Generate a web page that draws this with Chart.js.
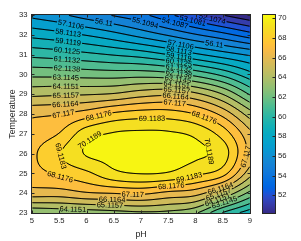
<!DOCTYPE html>
<html><head><meta charset="utf-8">
<script src="https://cdn.jsdelivr.net/npm/chart.js@4.4.1/dist/chart.umd.min.js"></script>
<style>html,body{margin:0;padding:0;background:#fff;}canvas{display:block;}</style>
</head><body>
<canvas id="c" width="301" height="241"></canvas>
<script>
// ---------- data ----------
const phValues = [5, 5.5, 6, 6.5, 7, 7.5, 8, 8.5, 9];
const tempValues = [23, 24, 25, 26, 27, 28, 29, 30, 31, 32, 33];
// response, one row per temperature, ordered by phValues
const zT23 = [63.2, 63.4, 63.5, 63.7, 63.9, 63.8, 63.2, 61.0, 59.5];
const zT24 = [66.6, 66.6, 67.0, 67.15, 67.3, 66.85, 66.5, 65.0, 62.8];
const zT25 = [67.7, 68.3, 68.9, 69.86, 70.15, 70.02, 69.35, 68.5, 65.5];
const zT26 = [67.9, 69.05, 70.2, 70.32, 70.34, 70.33, 70.28, 69.6, 66.7];
const zT27 = [67.5, 68.16, 69.69, 70.2, 70.3, 70.25, 69.9, 68.7, 66.35];
const zT28 = [66.9, 67.08, 67.6, 68.3, 68.6, 68.6, 68.09, 66.8, 64.6];
const zT29 = [64.87, 64.98, 65.04, 65.22, 65.7, 65.9, 65.35, 64.1, 62.0];
const zT30 = [62.85, 62.81, 62.7, 62.63, 62.68, 62.47, 61.8, 60.84, 59.47];
const zT31 = [60.83, 60.64, 60.36, 60.04, 59.7, 59.1, 58.3, 57.6, 56.95];
const zT32 = [58.8, 58.48, 58.04, 57.46, 56.75, 56.0, 55.2, 54.45, 53.55];
const zT33 = [56.8, 56.3, 55.6, 55.0, 54.35, 53.3, 52.2, 51.1, 50.2];

const contourLevels = [51.1068, 52.1074, 53.1081, 54.1087, 55.1094, 56.11, 57.1106, 58.1113, 59.1119, 60.1125,
  61.1132, 62.1138, 63.1145, 64.1151, 65.1157, 66.1164, 67.117, 68.1176, 69.1183, 70.1189];
const colorMin = 50.2, colorMax = 70.34;
const xTicks = [5, 5.5, 6, 6.5, 7, 7.5, 8, 8.5, 9];
const yTicks = [23, 24, 25, 26, 27, 28, 29, 30, 31, 32, 33];
const cbTicks = [52, 54, 56, 58, 60, 62, 64, 66, 68, 70];

// contour label anchors (level, approximate pH, approximate temperature)
const labelLevel = [57.1106, 56.11, 55.1094, 54.1087, 53.1081, 52.1074, 56.11,
  57.1106, 58.1113, 59.1119, 60.1125, 61.1132, 62.1138, 63.1145, 64.1151, 65.1157, 66.1164, 67.117,
  58.1113, 59.1119, 60.1125, 61.1132, 62.1138, 63.1145, 64.1151, 65.1157, 66.1164, 67.117,
  68.1176, 69.1183, 68.1176, 70.1189, 69.1183, 68.1176, 70.1189, 69.1183, 67.117, 68.1176,
  67.117, 66.1164, 65.1157, 64.1151, 66.1164, 65.1157, 64.1151, 63.1145];
const labelPH = [5.72, 6.32, 7.06, 7.62, 7.94, 8.30, 8.34,
  7.73, 7.70, 7.70, 7.70, 7.70, 7.70, 7.68, 7.66, 7.66, 7.64, 7.62,
  5.66, 5.66, 5.64, 5.64, 5.64, 5.62, 5.62, 5.62, 5.61, 5.57,
  6.21, 7.20, 8.17, 6.06, 5.53, 5.51, 8.34, 7.86, 8.87, 7.55,
  6.85, 6.47, 6.43, 5.75, 8.45, 8.41, 8.39, 8.52];
const labelT = [32.57, 32.67, 32.44, 32.55, 32.62, 32.70, 31.48,
  31.54, 31.26, 30.98, 30.70, 30.42, 30.12, 29.84, 29.57, 29.29, 29.01, 28.66,
  32.04, 31.59, 31.11, 30.65, 30.22, 29.82, 29.41, 29.01, 28.63, 28.10,
  28.05, 27.85, 27.90, 26.69, 25.88, 24.77, 26.23, 25.02, 25.88, 24.52,
  23.91, 23.61, 23.33, 23.18, 24.29, 24.04, 23.78, 23.61];

// ---------- style ----------
const parulaMap = [
[0.2081,0.1663,0.5292],[0.2116,0.1898,0.5777],[0.2123,0.2138,0.6270],[0.2081,0.2386,0.6771],
[0.1959,0.2645,0.7279],[0.1707,0.2919,0.7792],[0.1253,0.3242,0.8303],[0.0591,0.3598,0.8683],
[0.0117,0.3875,0.8820],[0.0060,0.4086,0.8828],[0.0165,0.4266,0.8786],[0.0329,0.4430,0.8720],
[0.0498,0.4586,0.8641],[0.0629,0.4737,0.8554],[0.0723,0.4887,0.8467],[0.0779,0.5040,0.8384],
[0.0793,0.5200,0.8312],[0.0749,0.5375,0.8263],[0.0641,0.5570,0.8240],[0.0488,0.5772,0.8228],
[0.0343,0.5966,0.8199],[0.0265,0.6137,0.8135],[0.0239,0.6287,0.8038],[0.0231,0.6418,0.7913],
[0.0228,0.6535,0.7768],[0.0267,0.6642,0.7607],[0.0384,0.6743,0.7436],[0.0590,0.6838,0.7254],
[0.0843,0.6928,0.7062],[0.1133,0.7015,0.6859],[0.1453,0.7098,0.6646],[0.1801,0.7177,0.6424],
[0.2178,0.7250,0.6193],[0.2586,0.7317,0.5954],[0.3022,0.7376,0.5712],[0.3482,0.7424,0.5473],
[0.3953,0.7459,0.5244],[0.4420,0.7481,0.5033],[0.4871,0.7491,0.4840],[0.5300,0.7491,0.4661],
[0.5709,0.7485,0.4494],[0.6099,0.7473,0.4337],[0.6473,0.7456,0.4188],[0.6834,0.7435,0.4044],
[0.7184,0.7411,0.3905],[0.7525,0.7384,0.3768],[0.7858,0.7356,0.3633],[0.8185,0.7327,0.3498],
[0.8507,0.7299,0.3360],[0.8824,0.7274,0.3217],[0.9139,0.7258,0.3063],[0.9450,0.7261,0.2886],
[0.9739,0.7314,0.2666],[0.9938,0.7455,0.2403],[0.9990,0.7653,0.2164],[0.9955,0.7861,0.1967],
[0.9880,0.8066,0.1794],[0.9789,0.8271,0.1633],[0.9697,0.8481,0.1475],[0.9626,0.8705,0.1309],
[0.9589,0.8949,0.1132],[0.9598,0.9218,0.0948],[0.9661,0.9514,0.0755],[0.9763,0.9831,0.0538]];
const FONT = '"Liberation Sans", Arial, Helvetica, sans-serif';
const AXIS_COLOR = '#262626';

// ---------- helpers ----------
const grid = [zT23, zT24, zT25, zT26, zT27, zT28, zT29, zT30, zT31, zT32, zT33];
const nR = grid.length, nC = phValues.length;
function g(r, c) {
  if (r < 0) return 2 * g(0, c) - g(1, c);
  if (r > nR - 1) return 2 * g(nR - 1, c) - g(nR - 2, c);
  if (c < 0) return 2 * grid[r][0] - grid[r][1];
  if (c > nC - 1) return 2 * grid[r][nC - 1] - grid[r][nC - 2];
  return grid[r][c];
}
function cr(p0, p1, p2, p3, t) {
  return p1 + 0.5 * t * (p2 - p0 + t * (2 * p0 - 5 * p1 + 4 * p2 - p3 + t * (3 * (p1 - p2) + p3 - p0)));
}
function field(ph, temp) {
  const u = (ph - phValues[0]) / (phValues[1] - phValues[0]);
  const v = (temp - tempValues[0]) / (tempValues[1] - tempValues[0]);
  const i = Math.max(0, Math.min(nC - 2, Math.floor(u))), fu = u - i;
  const j = Math.max(0, Math.min(nR - 2, Math.floor(v))), fv = v - j;
  const rows = [];
  for (let r = j - 1; r <= j + 2; r++) rows.push(cr(g(r, i - 1), g(r, i), g(r, i + 1), g(r, i + 2), fu));
  return cr(rows[0], rows[1], rows[2], rows[3], fv);
}
function parula(t) {
  t = Math.max(0, Math.min(1, t));
  const p = t * (parulaMap.length - 1), k = Math.min(parulaMap.length - 2, Math.floor(p)), f = p - k;
  const a = parulaMap[k], b = parulaMap[k + 1];
  return [0, 1, 2].map(q => Math.round(255 * (a[q] + (b[q] - a[q]) * f)));
}
function bandValue(z) {
  let v = colorMin;
  for (const lv of contourLevels) { if (z >= lv) v = lv; else break; }
  return v;
}

const contourPlugin = {
  id: 'contourPlugin',
  beforeDatasetsDraw(chart) {
    const {ctx, chartArea: a, scales} = chart;
    const sx = scales.x, sy = scales.y, sc = scales.cb;
    const L = Math.round(a.left), T = Math.round(a.top), R = Math.round(a.right), B = Math.round(a.bottom);
    const W = R - L, H = B - T;
    const fpix = (px, py) => field(sx.getValueForPixel(px), sy.getValueForPixel(py));
    const F = new Float64Array(W * H);
    for (let j = 0; j < H; j++) for (let i = 0; i < W; i++) F[j * W + i] = fpix(L + i + 0.5, T + j + 0.5);

    // filled bands
    const off = document.createElement('canvas'); off.width = W; off.height = H;
    const octx = off.getContext('2d'); const img = octx.createImageData(W, H);
    for (let k = 0; k < W * H; k++) {
      const c = parula((bandValue(F[k]) - colorMin) / (colorMax - colorMin));
      img.data[4 * k] = c[0]; img.data[4 * k + 1] = c[1]; img.data[4 * k + 2] = c[2]; img.data[4 * k + 3] = 255;
    }
    octx.putImageData(img, 0, 0);
    ctx.drawImage(off, L, T);

    // contour lines (marching squares)
    ctx.save();
    ctx.beginPath(); ctx.rect(L, T, W, H); ctx.clip();
    ctx.beginPath();
    const table = {1:[[3,0]],2:[[0,1]],3:[[3,1]],4:[[1,2]],6:[[0,2]],7:[[3,2]],8:[[2,3]],9:[[0,2]],11:[[1,2]],12:[[1,3]],13:[[0,1]],14:[[0,3]]};
    for (const lev of contourLevels) {
      for (let j = 0; j < H - 1; j++) for (let i = 0; i < W - 1; i++) {
        const v0 = F[j * W + i], v1 = F[j * W + i + 1], v2 = F[(j + 1) * W + i + 1], v3 = F[(j + 1) * W + i];
        const c = (v0 >= lev ? 1 : 0) | (v1 >= lev ? 2 : 0) | (v2 >= lev ? 4 : 0) | (v3 >= lev ? 8 : 0);
        if (c === 0 || c === 15) continue;
        const x0 = L + i + 0.5, y0 = T + j + 0.5;
        const ep = (e) => {
          if (e === 0) return [x0 + (lev - v0) / (v1 - v0), y0];
          if (e === 1) return [x0 + 1, y0 + (lev - v1) / (v2 - v1)];
          if (e === 2) return [x0 + (lev - v3) / (v2 - v3), y0 + 1];
          return [x0, y0 + (lev - v0) / (v3 - v0)];
        };
        let pairs = table[c];
        if (c === 5 || c === 10) {
          const m = (v0 + v1 + v2 + v3) / 4 >= lev;
          if (c === 5) pairs = m ? [[0,1],[3,2]] : [[3,0],[1,2]];
          else pairs = m ? [[3,0],[1,2]] : [[0,1],[3,2]];
        }
        for (const [e1, e2] of pairs) {
          const p = ep(e1), q = ep(e2);
          ctx.moveTo(p[0], p[1]); ctx.lineTo(q[0], q[1]);
        }
      }
    }
    ctx.strokeStyle = '#000'; ctx.lineWidth = 0.75; ctx.lineCap = 'round'; ctx.stroke();

    // contour labels
    ctx.font = '7.5px ' + FONT;
    const placed = [];
    for (let n = 0; n < labelLevel.length; n++) {
      const lev = labelLevel[n];
      let px = sx.getPixelForValue(labelPH[n]), py = sy.getPixelForValue(labelT[n]);
      let gx = 0, gy = 0;
      for (let k = 0; k < 10; k++) {
        const f = fpix(px, py);
        gx = (fpix(px + 0.5, py) - fpix(px - 0.5, py));
        gy = (fpix(px, py + 0.5) - fpix(px, py - 0.5));
        const g2 = gx * gx + gy * gy; if (g2 < 1e-9) break;
        let dx = -(f - lev) * gx / g2, dy = -(f - lev) * gy / g2;
        const d = Math.hypot(dx, dy); if (d > 3) { dx *= 3 / d; dy *= 3 / d; }
        px += dx; py += dy;
      }
      let ang = Math.atan2(-gx, gy);
      if (ang > Math.PI / 2) ang -= Math.PI;
      if (ang <= -Math.PI / 2) ang += Math.PI;
      const text = String(lev);
      const w = ctx.measureText(text).width;
      placed.push({px, py, ang, text, w});
    }
    for (const p of placed) {
      ctx.save();
      ctx.translate(p.px, p.py); ctx.rotate(p.ang);
      ctx.beginPath(); ctx.rect(-p.w / 2 - 1, -3.5, p.w + 2, 7); ctx.rotate(-p.ang); ctx.translate(-p.px, -p.py);
      ctx.clip();
      ctx.drawImage(off, L, T);
      ctx.restore();
    }
    ctx.fillStyle = '#000'; ctx.textAlign = 'center'; ctx.textBaseline = 'middle';
    for (const p of placed) {
      ctx.save(); ctx.translate(p.px, p.py); ctx.rotate(p.ang);
      ctx.fillText(p.text, 0, 0.5);
      ctx.restore();
    }
    ctx.restore();

    // axes box and inward ticks
    ctx.save();
    ctx.strokeStyle = AXIS_COLOR; ctx.lineWidth = 1;
    ctx.strokeRect(L - 0.5, T - 0.5, W + 1, H + 1);
    ctx.beginPath();
    for (const v of xTicks) {
      const px = Math.round(sx.getPixelForValue(v)) + 0.5;
      ctx.moveTo(px, B); ctx.lineTo(px, B - 2.5); ctx.moveTo(px, T); ctx.lineTo(px, T + 2.5);
    }
    for (const v of yTicks) {
      const py = Math.round(sy.getPixelForValue(v)) + 0.5;
      ctx.moveTo(L, py); ctx.lineTo(L + 2.5, py); ctx.moveTo(R, py); ctx.lineTo(R - 2.5, py);
    }
    ctx.stroke();

    // colorbar
    const cbL = R + 13, cbW = 12;
    for (let py = T; py < B; py++) {
      const v = sc.getValueForPixel(py + 0.5);
      const c = parula((v - colorMin) / (colorMax - colorMin));
      ctx.fillStyle = `rgb(${c[0]},${c[1]},${c[2]})`;
      ctx.fillRect(cbL, py, cbW, 1);
    }
    ctx.strokeRect(cbL - 0.5, T - 0.5, cbW + 1, H + 1);
    ctx.beginPath();
    for (const v of cbTicks) {
      const py = Math.round(sc.getPixelForValue(v)) + 0.5;
      ctx.moveTo(cbL + cbW, py); ctx.lineTo(cbL + cbW - 2.5, py);
    }
    ctx.stroke();
    ctx.restore();
  }
};

const tickFont = {family: FONT, size: 7.7};
const titleFont = {family: FONT, size: 8.8};
const noPad = s => { s.paddingTop = 0; s.paddingBottom = 0; };
new Chart(document.getElementById('c'), {
  type: 'scatter',
  data: {datasets: [{data: [], pointRadius: 0}]},
  options: {
    responsive: false, animation: false, devicePixelRatio: 1,
    layout: {padding: {top: 15, left: 0, right: 0, bottom: 0}},
    plugins: {legend: {display: false}, tooltip: {enabled: false}},
    scales: {
      x: {
        type: 'linear', min: 5, max: 9,
        afterBuildTicks: s => { s.ticks = xTicks.map(v => ({value: v})); },
        afterFit: s => { s.height = 28; s.paddingLeft = 0; s.paddingRight = 0; },
        grid: {display: false, drawTicks: false}, border: {display: false},
        ticks: {font: tickFont, color: AXIS_COLOR, padding: 3, autoSkip: false, maxRotation: 0, callback: v => String(v)},
        title: {display: true, text: 'pH', font: titleFont, color: AXIS_COLOR, padding: {top: 0, bottom: 0.7}}
      },
      y: {
        type: 'linear', position: 'left', min: 23, max: 33,
        afterBuildTicks: s => { s.ticks = yTicks.map(v => ({value: v})); },
        afterFit: s => { s.width = 32; noPad(s); },
        grid: {display: false, drawTicks: false}, border: {display: false},
        ticks: {font: tickFont, color: AXIS_COLOR, padding: 4.5, autoSkip: false, callback: v => String(v)},
        title: {display: true, text: 'Temperature', font: titleFont, color: AXIS_COLOR, padding: {top: 7.2, bottom: 0}}
      },
      cb: {
        type: 'linear', position: 'right', min: colorMin, max: colorMax,
        afterBuildTicks: s => { s.ticks = cbTicks.map(v => ({value: v})); },
        afterFit: s => { s.width = 51; noPad(s); },
        grid: {display: false, drawTicks: false}, border: {display: false},
        ticks: {font: tickFont, color: AXIS_COLOR, padding: 28, autoSkip: false, callback: v => String(v)}
      }
    }
  },
  plugins: [contourPlugin]
});
</script>
</body></html>
